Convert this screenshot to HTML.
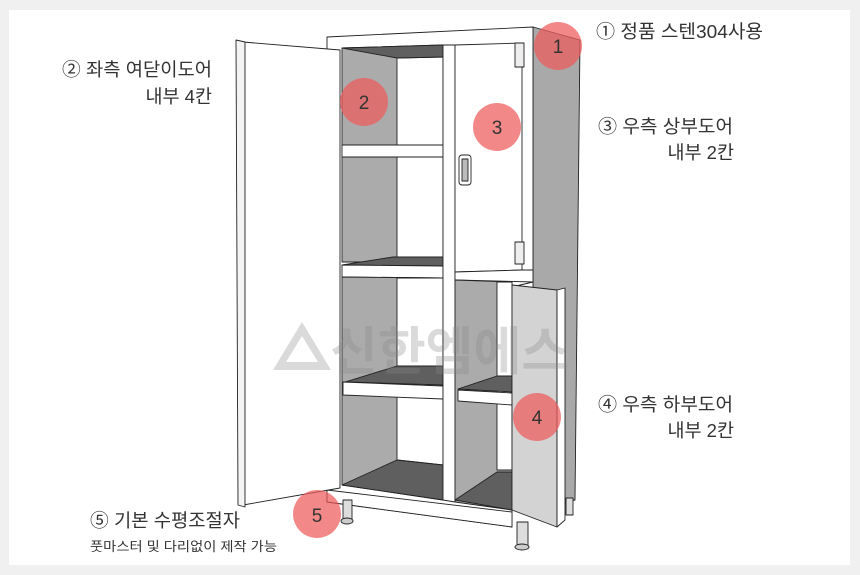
<!DOCTYPE html>
<html><head><meta charset="utf-8"><style>
html,body{margin:0;padding:0;background:#f0f0f0;}
svg{display:block;}
text{font-family:"Liberation Sans","Noto Sans CJK KR",sans-serif;fill:#333;}
</style></head><body>
<svg width="860" height="575" viewBox="0 0 860 575" xmlns="http://www.w3.org/2000/svg">
<rect x="0" y="0" width="860" height="575" fill="#f0f0f0"/>
<rect x="9" y="10" width="841" height="555" fill="#ffffff"/>
<g stroke="#222" stroke-width="0.9" stroke-linejoin="round">
<polygon points="533,27 580,40 575,500 533,510" fill="#a9a9a9"/>
<polygon points="327,37 533,27 533,282 512,287 512,527 327,502" fill="#fff"/>
<polygon points="342,48 443,45 443,262 342,262" fill="#ababab"/>
<polygon points="397,58 443,57 443,262 397,262" fill="#fff"/>
<polygon points="342,48 443,45 443,57 397,58" fill="#5f5f5f"/>
<polygon points="342,145 443,145 443,157 342,157" fill="#fff"/>
<polygon points="342,265 393,257 443,257 443,266" fill="#5f5f5f"/>
<polygon points="342,265 443,266 443,278 342,277" fill="#fff"/>
<polygon points="342,277 443,278 443,500 342,485" fill="#ababab"/>
<polygon points="397,278 443,278 443,465 397,460" fill="#fff"/>
<polygon points="345,382 397,366 443,366 443,385" fill="#5f5f5f"/>
<polygon points="343,382 443,386 443,399 343,395" fill="#fff"/>
<polygon points="342,485 397,460 443,465 443,500" fill="#5f5f5f"/>
<polygon points="443,45 455,45 455,502 443,500" fill="#fff"/>
<polygon points="455,45 522,43 522,270 455,272" fill="#fff"/>
<polygon points="455,272 522,270 533,270 533,282 455,280" fill="#fff"/>
<rect x="515" y="43" width="9" height="24" fill="#eee"/>
<rect x="515" y="242" width="9" height="22" fill="#eee"/>
<rect x="459" y="155" width="12" height="30" rx="3" fill="#fff"/>
<rect x="462" y="159" width="6" height="22" fill="#bbb"/>
<polygon points="455,280 512,282 512,510 455,502" fill="#ababab"/>
<polygon points="497,282 512,282 512,470 497,470" fill="#fff"/>
<polygon points="458,389 497,376 512,376 512,392" fill="#5f5f5f"/>
<polygon points="458,390 512,393 512,405 458,401" fill="#fff"/>
<polygon points="455,500 497,472 512,472 512,510" fill="#5f5f5f"/>
<polygon points="327,490 512,512 512,527 327,502" fill="#fff"/>
<rect x="343" y="500" width="9" height="20" fill="#ddd"/>
<ellipse cx="347" cy="521" rx="6" ry="3" fill="#ccc"/>
<rect x="517" y="522" width="11" height="24" fill="#ddd"/>
<ellipse cx="522" cy="547" rx="7" ry="3" fill="#ccc"/>
<rect x="566" y="498" width="7" height="17" fill="#ddd"/>
<polygon points="243,42 340,50 340,488 243,505" fill="#fff"/>
<polygon points="236,40 245,42 245,507 238,505" fill="#f4f4f4"/>
<polygon points="512,285 557,290 557,527 512,510" fill="#d3d3d3"/>
<polygon points="557,290 565,288 565,520 557,527" fill="#fff"/>
</g>
<g opacity="0.3">
<polygon points="273,370 302,322 331,370" fill="#888"/>
<polygon points="286,362 302,336 318,362" fill="#fff"/>
<text x="330" y="370" font-size="52" font-weight="bold" style="fill:#888">신한엠에스</text>
</g>
<g fill="#ee5a5a" fill-opacity="0.72">
<circle cx="558" cy="46" r="24"/>
<circle cx="364" cy="102" r="24"/>
<circle cx="497" cy="127" r="24"/>
<circle cx="537" cy="417" r="24"/>
<circle cx="317" cy="514" r="24"/>
</g>
<g font-size="19" text-anchor="middle">
<text x="558" y="53">1</text>
<text x="364" y="109">2</text>
<text x="497" y="134">3</text>
<text x="537" y="424">4</text>
<text x="317" y="522">5</text>
</g>
<g font-size="18.5">
<text x="596" y="38" textLength="167" lengthAdjust="spacingAndGlyphs">① 정품 스텐304사용</text>
<text x="62" y="76" textLength="150" lengthAdjust="spacingAndGlyphs">② 좌측 여닫이도어</text>
<text x="212" y="103" text-anchor="end">내부 4칸</text>
<text x="598" y="133" textLength="135" lengthAdjust="spacingAndGlyphs">③ 우측 상부도어</text>
<text x="734" y="159" text-anchor="end">내부 2칸</text>
<text x="598" y="411" textLength="135" lengthAdjust="spacingAndGlyphs">④ 우측 하부도어</text>
<text x="734" y="437" text-anchor="end">내부 2칸</text>
<text x="90" y="527" textLength="150" lengthAdjust="spacingAndGlyphs">⑤ 기본 수평조절자</text>
</g>
<text x="90" y="551" font-size="13" textLength="187" lengthAdjust="spacingAndGlyphs">풋마스터 및 다리없이 제작 가능</text>
</svg>
</body></html>
